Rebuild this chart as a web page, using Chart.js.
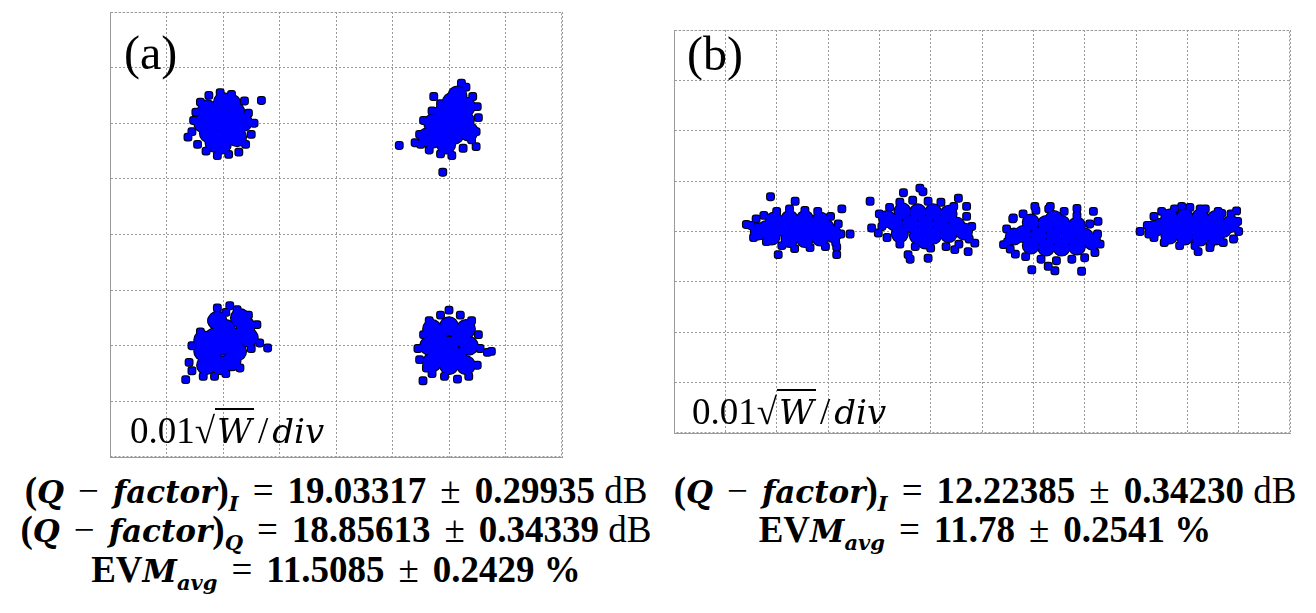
<!DOCTYPE html>
<html>
<head>
<meta charset="utf-8">
<script src="https://cdn.jsdelivr.net/npm/chart.js@4.4.1/dist/chart.umd.min.js"></script>
<style>
  body { margin: 0; background: #fff; width: 1316px; height: 613px; position: relative; overflow: hidden; }
  .plot { position: absolute; }
  .tag { position: absolute; font-family: "Liberation Serif", serif; font-size: 48px; line-height: 1; color: #000; }
  .scale { position: absolute; font-family: "Liberation Serif", serif; font-size: 37px; line-height: 1; color: #000; white-space: nowrap; }
  .scale i { font-family: "DejaVu Serif", serif; font-size: 34px; font-style: italic; }
  .scale .rad { border-top: 2px solid #000; padding: 0 2px; }
  .scale .sl { margin: 0 4px; }
  .eq { position: absolute; font-family: "Liberation Serif", serif; font-size: 37px; line-height: 1; color: #000; white-space: nowrap; font-weight: bold; text-align: center; }
  .eq i { font-family: "DejaVu Serif", serif; font-size: 31px; font-style: italic; }
  .eq sub { font-size: 22px; vertical-align: -8px; }
  .eq sub i { font-size: 21px; }
  .eq .op { margin: 0 14px; font-weight: normal; }
  .eq .u { font-weight: normal; }
</style>
</head>
<body>
<div class="plot" style="left:108px;top:10px;width:456px;height:449px"><canvas id="constA"></canvas></div>
<div class="plot" style="left:672px;top:28px;width:620px;height:407px"><canvas id="constB"></canvas></div>

<div class="tag" style="left:124px;top:29px">(a)</div>
<div class="tag" style="left:687px;top:30px">(b)</div>
<div class="scale" style="left:130px;top:412px">0.01√<span class="rad"><i>W</i></span><span class="sl">/</span><i>div</i></div>
<div class="scale" style="left:692px;top:393px">0.01√<span class="rad"><i>W</i></span><span class="sl">/</span><i>div</i></div>

<div class="eq" style="left:0px;width:672px;top:472px">(<i>Q</i><span class="op">−</span><i>factor</i>)<sub><i>I</i></sub><span class="op">=</span>19.03317<span class="op">±</span>0.29935 <span class="u">dB</span></div>
<div class="eq" style="left:0px;width:672px;top:511px">(<i>Q</i><span class="op">−</span><i>factor</i>)<sub><i>Q</i></sub><span class="op">=</span>18.85613<span class="op">±</span>0.34339 <span class="u">dB</span></div>
<div class="eq" style="left:0px;width:672px;top:551px">EV<i>M</i><sub><i>avg</i></sub><span class="op">=</span>11.5085<span class="op">±</span>0.2429 %</div>
<div class="eq" style="left:672px;width:626px;top:472px">(<i>Q</i><span class="op">−</span><i>factor</i>)<sub><i>I</i></sub><span class="op">=</span>12.22385<span class="op">±</span>0.34230 <span class="u">dB</span></div>
<div class="eq" style="left:672px;width:626px;top:511px">EV<i>M</i><sub><i>avg</i></sub><span class="op">=</span>11.78<span class="op">±</span>0.2541 %</div>

<script>
// Panel (a): 4 symbols, dense core + scattered edge samples (units = div)
const coreA = [
  // top-left
  [-2.00,2.00],[-2.20,2.05],[-1.80,1.95],[-2.05,2.25],[-1.95,1.78],[-2.25,1.82],[-1.78,2.20],[-2.28,2.25],
  [-1.75,1.75],[-2.35,2.00],[-1.65,2.02],[-2.00,2.38],[-2.02,1.62],[-2.15,1.65],[-1.85,2.35],
  // top-right
  [2.00,2.00],[2.18,2.15],[1.82,1.85],[2.10,1.80],[1.90,2.18],[2.30,2.30],[1.70,1.72],[2.28,2.05],
  [1.72,2.00],[2.05,2.38],[1.95,1.62],[2.35,1.85],[1.62,1.75],[2.15,2.50],
  // bottom-left
  [-2.00,-2.00],[-1.80,-1.85],[-2.20,-2.15],[-1.95,-1.70],[-2.15,-1.85],[-1.75,-2.10],[-2.35,-2.10],[-1.60,-1.65],
  [-2.30,-2.35],[-2.05,-2.35],[-1.85,-2.28],[-1.70,-1.50],[-2.35,-1.90],[-1.55,-1.85],[-2.10,-1.55],
  // bottom-right
  [2.00,-2.00],[2.20,-1.85],[1.80,-1.85],[1.85,-2.15],[2.15,-2.20],[2.35,-2.00],[1.65,-2.00],[2.00,-1.65],
  [2.00,-2.35],[1.70,-1.70],[2.30,-1.70],[1.70,-2.30],[2.30,-2.35]
];
const edgeA = [
  [-2.55,1.85],[-2.48,2.20],[-2.40,2.38],[-2.25,2.50],[-2.05,2.55],[-1.85,2.52],[-1.62,2.40],[-1.32,2.41],
  [-1.55,2.18],[-1.45,2.00],[-1.50,1.80],[-1.60,1.62],[-1.72,1.48],[-1.90,1.44],[-2.10,1.42],[-2.30,1.50],
  [-2.45,1.62],[-2.62,1.75],[-2.52,2.05],
  [2.22,2.72],[2.30,2.65],[2.42,2.48],[2.50,2.30],[2.52,2.10],[2.48,1.85],[2.40,1.70],[2.25,1.55],
  [2.05,1.42],[1.85,1.45],[1.65,1.52],[1.50,1.62],[1.48,1.80],[1.55,2.05],[1.70,2.22],[1.85,2.35],
  [1.73,2.48],[1.12,1.60],[1.89,1.12],[1.40,1.65],[2.48,1.58],
  [-1.40,-1.62],[-1.45,-1.85],[-1.50,-2.05],[-1.55,-1.45],[-1.75,-1.35],[-1.95,-1.40],[-2.20,-1.55],
  [-2.40,-1.75],[-2.55,-2.00],[-2.60,-2.30],[-2.55,-2.45],[-2.35,-2.55],[-2.15,-2.55],[-1.95,-2.50],
  [-1.70,-2.40],[-2.66,-2.61],[-2.10,-1.32],[-1.88,-1.28],[-1.21,-2.04],[-1.35,-1.95],
  [1.45,-2.05],[1.48,-2.25],[1.55,-1.80],[1.65,-1.55],[1.85,-1.45],[2.00,-1.36],[2.20,-1.45],[2.40,-1.55],
  [2.52,-1.80],[2.55,-2.05],[2.68,-2.12],[2.75,-2.10],[2.50,-2.35],[2.35,-2.55],[2.15,-2.60],[1.92,-2.55],
  [1.70,-2.50],[1.54,-2.63],[1.60,-2.40]
];

// Panel (b): 4 levels along the I axis
const coreB = [
  [-3.60,0.05],[-3.90,0.08],[-3.30,0.05],[-4.20,0.05],[-3.05,0.08],[-3.75,0.25],[-3.45,0.25],[-3.15,0.22],
  [-4.05,0.22],[-3.75,-0.15],[-3.45,-0.15],[-3.15,-0.12],[-4.10,-0.10],[-2.90,-0.05],[-4.35,0.00],
  [-1.10,0.15],[-1.40,0.15],[-0.80,0.15],[-1.70,0.18],[-0.50,0.12],[-1.25,0.38],[-0.95,0.38],[-0.65,0.35],
  [-1.55,0.40],[-1.25,-0.08],[-0.95,-0.08],[-0.65,-0.05],[-1.60,-0.05],[-0.35,0.00],[-1.85,0.25],[-1.10,-0.18],
  [1.40,-0.08],[1.10,-0.08],[1.70,-0.08],[0.80,-0.05],[2.00,-0.10],[1.25,0.15],[1.55,0.15],[1.85,0.12],
  [0.95,0.18],[1.25,-0.32],[1.55,-0.32],[1.85,-0.30],[0.95,-0.28],[0.62,-0.10],[2.15,-0.20],[1.40,0.25],
  [4.10,0.10],[3.80,0.10],[4.40,0.08],[3.50,0.10],[4.70,0.05],[3.95,0.28],[4.25,0.28],[4.55,0.25],
  [3.65,0.28],[3.95,-0.10],[4.25,-0.12],[4.55,-0.10],[3.65,-0.08],[3.35,0.05],[4.85,0.15]
];
const edgeB = [
  [-4.50,0.12],[-4.45,-0.12],[-4.40,0.25],[-4.25,0.32],[-4.00,0.40],[-3.75,0.45],[-3.45,0.42],[-3.20,0.40],
  [-2.95,0.30],[-2.80,0.15],[-2.75,-0.05],[-2.85,-0.22],[-3.05,-0.30],[-3.35,-0.32],[-3.65,-0.34],[-3.90,-0.28],
  [-4.20,-0.20],[-4.12,0.69],[-4.59,0.14],[-2.57,-0.05],[-2.73,0.45],[-3.97,-0.46],[-2.83,-0.31],[-2.83,-0.46],
  [-3.64,0.60],
  [-2.00,0.35],[-1.95,0.10],[-1.85,-0.12],[-1.80,0.48],[-1.60,0.58],[-1.35,0.62],[-1.05,0.60],[-0.80,0.58],
  [-0.55,0.50],[-0.30,0.30],[-0.20,0.10],[-0.25,-0.15],[-0.45,-0.25],[-0.70,-0.30],[-1.00,-0.33],[-1.30,-0.30],
  [-1.60,-0.25],[-1.21,0.86],[-1.15,0.79],[-1.53,0.77],[-2.18,0.60],[-2.15,0.07],[-2.02,-0.03],[-1.44,-0.46],
  [-1.40,-0.55],[-1.05,-0.53],[-0.27,-0.40],[-0.14,-0.23],[-0.46,0.66],[-0.30,0.50],[-0.53,-0.36],
  [0.48,0.05],[0.50,-0.20],[0.55,-0.35],[0.60,0.25],[0.80,0.35],[1.05,0.42],[1.30,0.45],[1.60,0.40],
  [1.85,0.32],[2.10,0.15],[2.25,-0.05],[2.30,-0.25],[2.20,-0.42],[2.00,-0.52],[1.75,-0.55],[1.45,-0.58],
  [1.15,-0.55],[0.85,-0.50],[0.65,-0.45],[0.42,-0.26],[1.85,0.46],[2.17,0.40],[2.26,0.20],[0.97,-0.76],
  [1.29,-0.69],[1.42,-0.78],[1.94,-0.79],[1.03,0.50],[1.33,0.50],[0.61,0.27],
  [3.22,0.12],[3.25,-0.05],[3.35,0.30],[3.50,0.40],[3.75,0.45],[4.05,0.48],[4.35,0.45],[4.60,0.40],
  [4.85,0.35],[4.98,0.20],[5.00,0.00],[4.90,-0.15],[4.70,-0.22],[4.45,-0.25],[4.15,-0.28],[3.85,-0.28],
  [3.55,-0.22],[3.35,-0.12],[3.08,0.00],[4.96,0.41],[4.21,-0.40],[4.44,-0.32],[4.67,0.36],[3.89,0.50],[4.25,0.45]
];

const rangeA = { x: [-4, 4], y: [-4, 4] };
const rangeB = { x: [-6, 6], y: [-4, 4] };

const BLUE = "#0000ff";
const GRID = "#9a9a9a";

function toXY(list) {
  return list.map(([x, y]) => ({ x, y }));
}

/**
 * Outline layer first, then the same points again without border on top,
 * so only the outer rim of each blob keeps its black edge.
 */
function blobSets(core, edge, rCore, rEdge) {
  const base = { backgroundColor: BLUE, pointBorderColor: "#000", showLine: false };
  return [
    { ...base, data: toXY(edge), pointRadius: rEdge, pointStyle: "rectRounded", pointBorderWidth: 2, order: 1 },
    { ...base, data: toXY(core), pointRadius: rCore, pointStyle: "circle", pointBorderWidth: 2, order: 1 },
    { ...base, data: toXY(edge), pointRadius: rEdge, pointStyle: "rectRounded", pointBorderWidth: 0, order: 0 },
    { ...base, data: toXY(core), pointRadius: rCore, pointStyle: "circle", pointBorderWidth: 0, order: 0 },
  ];
}

// dotted frame on all four sides of the plot area
const framePlugin = {
  id: "frame",
  beforeDatasetsDraw(chart) {
    const { ctx, chartArea: a } = chart;
    ctx.save();
    ctx.strokeStyle = GRID;
    ctx.lineWidth = 1;
    ctx.setLineDash([2, 2]);
    ctx.strokeRect(a.left + 0.5, a.top + 0.5, a.right - a.left - 1, a.bottom - a.top - 1);
    ctx.restore();
  },
};

function axis(range) {
  return {
    type: "linear",
    min: range[0],
    max: range[1],
    ticks: { display: false, stepSize: 1 },
    grid: { color: GRID, lineWidth: 1, drawTicks: false },
    border: { color: GRID, width: 1, dash: [2, 2] },
  };
}

function makeChart(id, core, edge, range, rCore, rEdge) {
  return new Chart(document.getElementById(id), {
    type: "scatter",
    data: { datasets: blobSets(core, edge, rCore, rEdge) },
    options: {
      responsive: true,
      maintainAspectRatio: false,
      animation: false,
      layout: { padding: 2, autoPadding: false },
      plugins: { legend: { display: false }, tooltip: { enabled: false } },
      scales: { x: axis(range.x), y: axis(range.y) },
    },
    plugins: [framePlugin],
  });
}

makeChart("constA", coreA, edgeA, rangeA, 9, 4);
makeChart("constB", coreB, edgeB, rangeB, 8, 4);
</script>
</body>
</html>
